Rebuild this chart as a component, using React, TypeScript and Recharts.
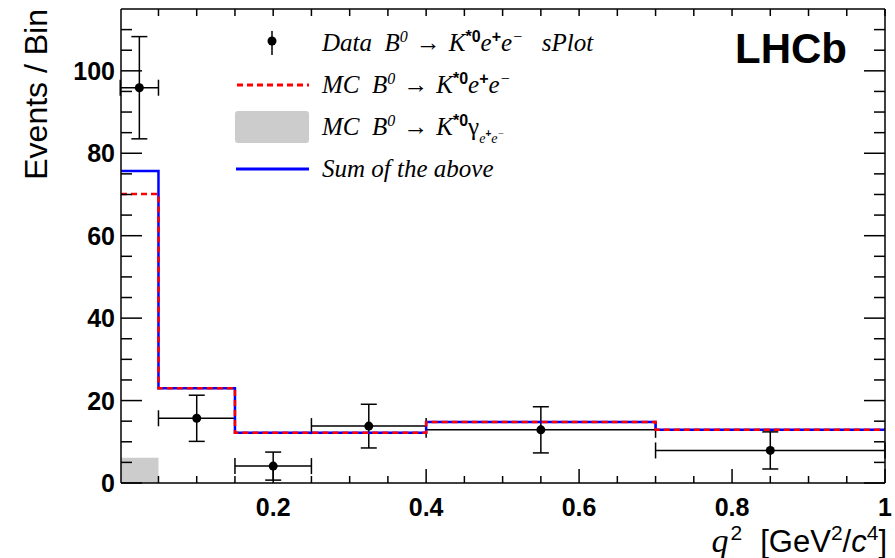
import React from 'react';
import { ComposedChart, Line, Area, Scatter, ErrorBar, XAxis, YAxis, Legend } from 'recharts';

// histogram bin edges and contents (events / bin)
const binEdges = [0.001, 0.05, 0.15, 0.4, 0.7, 1];
const sumCounts = [75.7, 23.0, 12.2, 14.8, 12.9];
const mcEeCounts = [70.1, 23.0, 12.2, 14.8, 12.9];
const mcGammaCounts = [6.1, 0, 0, 0, 0];

// sPlot data points
const dataX = [0.025, 0.1, 0.2, 0.325, 0.55, 0.85];
const dataY = [95.9, 15.7, 4.1, 13.8, 12.9, 7.9];
const dataYErr = [12.4, 5.6, 3.4, 5.3, 5.6, 4.5];
const dataXLow = [0, 0.05, 0.15, 0.25, 0.4, 0.7];
const dataXHigh = [0.05, 0.15, 0.25, 0.4, 0.7, 1];

// axis ticks
const xTicks = [0.05, 0.1, 0.15, 0.2, 0.25, 0.3, 0.35, 0.4, 0.45, 0.5, 0.55, 0.6, 0.65, 0.7, 0.75, 0.8, 0.85, 0.9, 0.95, 1];
const xLabels = [0.2, 0.4, 0.6, 0.8, 1];
const yTicks = [0, 5, 10, 15, 20, 25, 30, 35, 40, 45, 50, 55, 60, 65, 70, 75, 80, 85, 90, 95, 100, 105, 110];
const yLabels = [0, 20, 40, 60, 80, 100];

const histRows = binEdges.map((x, i) => {
  const k = Math.min(i, sumCounts.length - 1);
  return { x, sum: sumCounts[k], mcEe: mcEeCounts[k], mcGamma: mcGammaCounts[k] };
});

const pointRows = dataX.map((x, i) => ({
  x,
  y: dataY[i],
  ey: [dataYErr[i], dataYErr[i]],
  ex: [x - dataXLow[i], dataXHigh[i] - x],
}));

const SANS = '"Liberation Sans", Arial, sans-serif';
const SERIF = '"Liberation Serif", "Times New Roman", serif';

const isMajorX = (v: number) => xLabels.some((l) => Math.abs(l - v) < 1e-6);
const isMajorY = (v: number) => yLabels.some((l) => Math.abs(l - v) < 1e-6);

const BottomTick = (props: any) => {
  const { x, y, payload } = props;
  const major = isMajorX(payload.value);
  return (
    <g>
      <line x1={x} x2={x} y1={y} y2={y - (major ? 14 : 7)} stroke="#000" strokeWidth={1.5} />
      {major && (
        <text x={x} y={y + 33} textAnchor="middle" fontFamily={SANS} fontWeight="bold" fontSize={25} fill="#000">
          {String(payload.value)}
        </text>
      )}
    </g>
  );
};

const TopTick = (props: any) => {
  const { x, y } = props;
  return <line x1={x} x2={x} y1={y} y2={y + 7} stroke="#000" strokeWidth={1.5} />;
};

const LeftTick = (props: any) => {
  const { x, y, payload } = props;
  const major = isMajorY(payload.value);
  return (
    <g>
      <line x1={x} x2={x + (major ? 21 : 11)} y1={y} y2={y} stroke="#000" strokeWidth={1.5} />
      {major && (
        <text x={x - 6} y={y} dy={9} textAnchor="end" fontFamily={SANS} fontWeight="bold" fontSize={25} fill="#000">
          {String(payload.value)}
        </text>
      )}
    </g>
  );
};

const RightTick = (props: any) => {
  const { x, y, payload } = props;
  const major = isMajorY(payload.value);
  return <line x1={x} x2={x - (major ? 21 : 11)} y1={y} y2={y} stroke="#000" strokeWidth={1.5} />;
};

const Sup = ({ children, sans, bold }: { children: React.ReactNode; sans?: boolean; bold?: boolean }) => (
  <span
    style={{
      fontSize: 16,
      verticalAlign: 9,
      lineHeight: 0,
      fontFamily: sans ? SANS : SERIF,
      fontWeight: bold ? 'bold' : 'normal',
      fontStyle: sans ? 'normal' : 'italic',
    }}
  >
    {children}
  </span>
);

const Arrow = () => <span style={{ fontStyle: 'normal', margin: '0 8px' }}>{'\u2192'}</span>;

const legendRows = [
  {
    key: 'data',
    icon: (
      <svg width={74} height={42}>
        <line x1={37} x2={37} y1={9} y2={33} stroke="#000" strokeWidth={1.5} />
        <circle cx={37} cy={19} r={4.5} fill="#000" />
      </svg>
    ),
    text: (
      <>
        Data&nbsp; B<Sup>0</Sup>
        <Arrow />
        K<Sup sans bold>*0</Sup>e<Sup sans bold>+</Sup>e<Sup>{'\u2212'}</Sup>&nbsp;&nbsp; sPlot
      </>
    ),
  },
  {
    key: 'mcee',
    icon: (
      <svg width={74} height={42}>
        <line x1={2} x2={74} y1={21} y2={21} stroke="#ff0000" strokeWidth={3} strokeDasharray="6 4" />
      </svg>
    ),
    text: (
      <>
        MC&nbsp; B<Sup>0</Sup>
        <Arrow />
        K<Sup sans bold>*0</Sup>e<Sup sans bold>+</Sup>e<Sup>{'\u2212'}</Sup>
      </>
    ),
  },
  {
    key: 'mcgamma',
    icon: (
      <svg width={74} height={42}>
        <rect x={0} y={5} width={74} height={32} rx={3} fill="#cccccc" />
      </svg>
    ),
    text: (
      <>
        MC&nbsp; B<Sup>0</Sup>
        <Arrow />
        K<Sup sans bold>*0</Sup>
        <span style={{ fontStyle: 'normal' }}>{'\u03b3'}</span>
        <span style={{ fontSize: 14, verticalAlign: -8, lineHeight: 0 }}>
          e<span style={{ fontSize: 10, verticalAlign: 6, fontFamily: SANS, fontStyle: 'normal', fontWeight: 'bold' }}>+</span>e
          <span style={{ fontSize: 10, verticalAlign: 6 }}>{'\u2212'}</span>
        </span>
      </>
    ),
  },
  {
    key: 'sum',
    icon: (
      <svg width={74} height={42}>
        <line x1={1} x2={74} y1={21} y2={21} stroke="#0000ff" strokeWidth={3} />
      </svg>
    ),
    text: <>Sum of the above</>,
  },
];

const LegendBox = () => (
  <div style={{ position: 'relative' }}>
    {legendRows.map((r) => (
      <div key={r.key} style={{ display: 'flex', alignItems: 'center', height: 42 }}>
        <div style={{ width: 87, height: 42 }}>{r.icon}</div>
        <div style={{ fontFamily: SERIF, fontStyle: 'italic', fontSize: 25, whiteSpace: 'nowrap', color: '#000' }}>
          {r.text}
        </div>
      </div>
    ))}
  </div>
);

const XTitle = (props: any) => (
  <text x={887} y={552} textAnchor="end" fontFamily={SANS} fontSize={31} fill="#000">
    <tspan fontFamily={SERIF} fontStyle="italic" fontSize={34}>q</tspan>
    <tspan dy={-12} dx={2} fontSize={21}>2</tspan>
    <tspan dy={12} dx={18}>[GeV</tspan>
    <tspan dy={-12} fontSize={21}>2</tspan>
    <tspan dy={12}>/</tspan>
    <tspan fontStyle="italic">c</tspan>
    <tspan dy={-12} fontSize={21}>4</tspan>
    <tspan dy={12}>]</tspan>
  </text>
);

const YTitle = (props: any) => (
  <text x={47} y={9} transform="rotate(-90, 47, 9)" textAnchor="end" fontFamily={SANS} fontSize={32} fill="#000">
    Events / Bin
  </text>
);

const LhcbLabel = (props: any) => (
  <text x={735} y={63} fontFamily={SANS} fontWeight="bold" fontSize={42} fill="#000">
    LHCb
  </text>
);

export default function App() {
  return (
    <div style={{ position: 'absolute', left: 0, top: 0, width: 895, height: 558, background: '#fff' }}>
      <ComposedChart width={895} height={558} margin={{ top: 8, right: 9, bottom: 0, left: 0 }}>
        <XAxis
          xAxisId="main"
          dataKey="x"
          type="number"
          domain={[0.001, 1]}
          allowDataOverflow
          ticks={xTicks}
          interval={0}
          height={75}
          tickSize={0}
          tickMargin={0}
          tick={<BottomTick />}
          axisLine={{ stroke: '#000', strokeWidth: 1.5 }}
          label={<XTitle />}
        />
        <XAxis
          xAxisId="top"
          orientation="top"
          dataKey="x"
          type="number"
          domain={[0.001, 1]}
          allowDataOverflow
          ticks={xTicks}
          interval={0}
          height={1}
          tickSize={0}
          tickMargin={0}
          tick={<TopTick />}
          axisLine={{ stroke: '#000', strokeWidth: 1.5 }}
          label={<LhcbLabel />}
        />
        <YAxis
          yAxisId="main"
          type="number"
          domain={[0, 115]}
          allowDataOverflow
          ticks={yTicks}
          interval={0}
          width={121}
          tickSize={0}
          tickMargin={0}
          tick={<LeftTick />}
          axisLine={{ stroke: '#000', strokeWidth: 1.5 }}
          label={<YTitle />}
        />
        <YAxis
          yAxisId="right"
          orientation="right"
          type="number"
          domain={[0, 115]}
          allowDataOverflow
          ticks={yTicks}
          interval={0}
          width={1}
          tickSize={0}
          tickMargin={0}
          tick={<RightTick />}
          axisLine={{ stroke: '#000', strokeWidth: 1.5 }}
        />
        <Area
          xAxisId="main"
          yAxisId="main"
          data={histRows}
          dataKey="mcGamma"
          type="stepAfter"
          stroke="none"
          fill="#cccccc"
          fillOpacity={1}
          isAnimationActive={false}
        />
        <Scatter
          xAxisId="main"
          yAxisId="main"
          data={pointRows}
          dataKey="y"
          isAnimationActive={false}
          shape={(p: any) => <circle cx={p.cx} cy={p.cy} r={4.5} fill="#000" />}
        >
          <ErrorBar dataKey="ey" direction="y" width={8} stroke="#000" strokeWidth={1.5} />
          <ErrorBar dataKey="ex" direction="x" width={8} stroke="#000" strokeWidth={1.5} />
        </Scatter>
        <Line
          xAxisId="main"
          yAxisId="main"
          data={histRows}
          dataKey="sum"
          type="stepAfter"
          stroke="#0000ff"
          strokeWidth={2.5}
          dot={false}
          activeDot={false}
          isAnimationActive={false}
        />
        <Line
          xAxisId="main"
          yAxisId="main"
          data={histRows}
          dataKey="mcEe"
          type="stepAfter"
          stroke="#ff0000"
          strokeWidth={2.5}
          strokeDasharray="6 4"
          dot={false}
          activeDot={false}
          isAnimationActive={false}
        />
        <Legend
          layout="horizontal"
          verticalAlign="middle"
          align="center"
          wrapperStyle={{ position: 'absolute', top: 22, left: 235, width: 420 }}
          content={<LegendBox />}
        />
      </ComposedChart>
    </div>
  );
}
